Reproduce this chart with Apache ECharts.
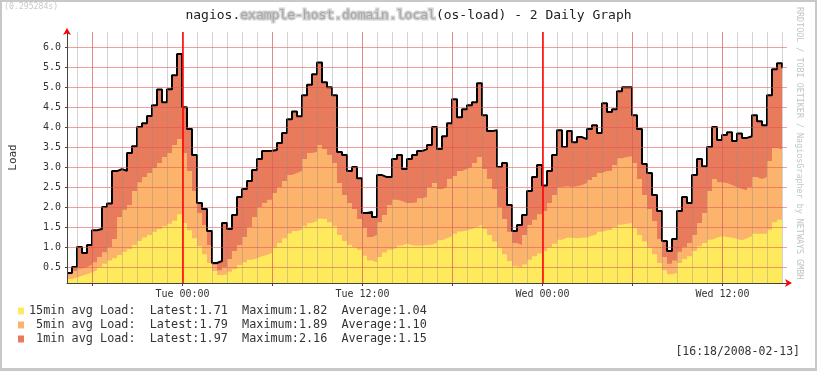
<!DOCTYPE html>
<html><head><meta charset="utf-8">
<script src="https://cdn.jsdelivr.net/npm/echarts@6/dist/echarts.min.js"></script>
<style>
html,body{margin:0;padding:0;background:#fff;}
#wrap{position:relative;width:817px;height:371px;overflow:hidden;}
#chart{width:817px;height:371px;}
#frame{position:absolute;left:0;top:0;width:817px;height:371px;box-sizing:border-box;border:2px solid #c8c8c8;border-bottom-width:3px;pointer-events:none;}
</style></head><body>
<div id="wrap"><div id="chart"></div><div id="frame"></div></div>
<script>
// ---- data ----
const seriesNames = ['15min avg Load:', ' 5min avg Load:', ' 1min avg Load:'];
const seriesColors = ['#FFEA5E', '#FCB46C', '#E87B5B'];
const statLatest = ['1.71', '1.79', '1.97'];
const statMaximum = ['1.82', '1.89', '2.16'];
const statAverage = ['1.04', '1.10', '1.15'];

const load15 = [0.20,0.24,0.28,0.32,0.37,0.42,0.50,0.58,0.66,0.72,0.80,0.88,0.95,1.05,1.15,1.24,1.30,1.38,1.45,1.52,1.58,1.66,1.82,1.60,1.42,1.22,1.02,0.82,0.60,0.40,0.30,0.32,0.38,0.45,0.55,0.62,
0.68,0.72,0.77,0.80,0.85,0.98,1.10,1.22,1.34,1.40,1.43,1.52,1.60,1.65,1.71,1.70,1.62,1.52,1.30,1.15,1.06,1.00,0.93,0.78,0.66,0.62,0.75,0.86,0.93,0.98,1.04,1.08,1.05,1.03,1.04,1.05,
1.06,1.10,1.17,1.22,1.27,1.33,1.39,1.42,1.45,1.50,1.55,1.45,1.30,1.14,0.98,0.82,0.65,0.52,0.48,0.56,0.68,0.77,0.84,0.90,1.00,1.08,1.18,1.23,1.23,1.22,1.23,1.24,1.28,1.32,1.38,1.42,
1.43,1.50,1.56,1.58,1.60,1.48,1.30,1.14,0.98,0.82,0.60,0.42,0.32,0.35,0.60,0.70,0.77,0.90,1.02,1.10,1.18,1.23,1.27,1.25,1.23,1.20,1.17,1.22,1.27,1.33,1.33,1.33,1.43,1.62,1.68,1.71];

const load5 = [0.12,0.16,0.18,0.18,0.18,0.20,0.25,0.29,0.34,0.48,0.95,1.05,1.10,1.35,1.47,1.51,1.55,1.60,1.65,1.73,1.77,1.89,1.88,1.75,1.48,1.18,0.83,0.73,0.45,0.15,0.12,0.18,0.32,0.45,0.50,0.63,
0.82,1.03,1.23,1.30,1.33,1.37,1.40,1.43,1.46,1.45,1.47,1.68,1.75,1.73,1.84,1.75,1.68,1.58,1.30,1.15,1.04,0.95,0.77,0.70,0.59,0.68,0.87,0.94,1.12,1.20,1.11,1.02,1.05,1.09,1.18,1.20,
1.44,1.50,1.28,1.28,1.43,1.45,1.51,1.53,1.55,1.60,1.70,1.50,1.40,1.31,1.02,0.88,0.73,0.58,0.57,0.74,0.87,0.91,0.98,1.00,1.10,1.22,1.32,1.29,1.27,1.30,1.32,1.36,1.40,1.43,1.47,1.48,
1.47,1.55,1.66,1.67,1.67,1.62,1.40,1.16,0.97,0.83,0.60,0.33,0.26,0.31,0.28,0.30,0.33,0.40,0.58,0.75,1.22,1.47,1.35,1.35,1.32,1.30,1.28,1.20,1.23,1.42,1.37,1.42,1.72,1.86,1.77,1.79];

const load1 = [0.03,0.10,0.54,0.35,0.50,0.80,0.70,1.13,1.09,1.70,1.20,0.98,1.30,1.12,1.38,1.35,1.43,1.57,1.84,1.37,1.60,1.75,2.13,1.15,1.05,0.90,0.25,0.40,0.35,0.05,0.23,1.10,0.75,0.90,1.20,1.20,
1.15,1.18,1.20,1.30,1.23,1.08,1.10,1.20,1.40,1.54,1.37,1.60,1.71,1.94,2.07,1.67,1.70,1.70,0.78,1.00,0.80,1.05,1.02,0.37,0.63,0.45,1.18,0.95,0.70,1.02,1.15,0.85,1.10,1.18,1.18,1.20,
1.05,1.40,1.00,1.27,1.40,1.92,1.35,1.50,1.55,1.52,1.85,1.35,1.20,1.47,1.00,1.40,0.67,0.30,0.50,0.50,0.85,1.07,1.23,0.64,0.80,1.00,1.42,0.98,1.40,1.10,1.20,1.10,1.27,1.30,1.00,1.70,
1.48,1.40,1.68,1.75,1.73,1.20,1.25,0.78,0.90,0.65,0.70,0.40,0.32,0.54,1.02,1.25,1.00,1.50,1.60,1.17,1.10,1.30,1.06,1.20,1.32,1.15,1.39,1.31,1.27,1.55,1.45,1.30,1.65,1.97,2.15,1.97];

const sampleStart = '2008-02-11 16:18';
const sampleStepMinutes = 20;
const axisStart = '2008-02-11 16:18';
const axisEnd = '2008-02-13 16:18';
const xLabelTimes = ['2008-02-12 00:00', '2008-02-12 12:00', '2008-02-13 00:00', '2008-02-13 12:00'];
const dayRules = ['2008-02-12 00:00', '2008-02-13 00:00'];
const yTickValues = [0.5, 1.0, 1.5, 2.0, 2.5, 3.0, 3.5, 4.0, 4.5, 5.0, 5.5, 6.0];
const yMin = 0.1, yMax = 6.38;

const titleHost = 'example-host.domain.local';
const titleText = ['nagios.', '(os-load) - 2 Daily Graph'];
const timingText = '(0.295284s)';
const creditText = 'RRDTOOL / TOBI OETIKER / NagiosGrapher by NETWAYS GMBH';
const stampText = '[16:18/2008-02-13]';

// ---- helpers ----
function ts(s) {
  const [d, h] = s.split(' ');
  const [Y, M, D] = d.split('-').map(Number);
  const [hh, mm] = h.split(':').map(Number);
  return Date.UTC(Y, M - 1, D, hh, mm);
}
const HOUR = 3600000;
const DAYS = ['Sun', 'Mon', 'Tue', 'Wed', 'Thu', 'Fri', 'Sat'];
function fmtTime(v) {
  const d = new Date(v);
  const p = n => String(n).padStart(2, '0');
  return DAYS[d.getUTCDay()] + ' ' + p(d.getUTCHours()) + ':' + p(d.getUTCMinutes());
}
const xMin = ts(axisStart), xMax = ts(axisEnd);
const t0 = ts(sampleStart);
const times = load15.map((_, i) => t0 + i * sampleStepMinutes * 60000);
const hourTicks = [], majorTicks = [];
for (let h = Math.ceil(xMin / HOUR) * HOUR; h <= xMax; h += HOUR) {
  hourTicks.push(h);
  if (new Date(h).getUTCHours() % 6 === 0) majorTicks.push(h);
}
// stacked totals (RRDtool STACK): 15min, 15+5, 15+5+1
const loads = [load15, load5, load1];
const stackedTotals = loads.map((_, s) => load15.map((__, i) => {
  let sum = 0; for (let j = 0; j <= s; j++) sum += loads[j][i]; return +sum.toFixed(3);
}));
const pair = arr => arr.map((v, i) => [times[i], v]);
const FONT = 'DejaVu Sans Mono';
const GRID_MINOR = 'rgba(140,140,140,0.38)';
const GRID_MAJOR = 'rgba(232,80,80,0.55)';
const AXIS = '#444';

const chart = echarts.init(document.getElementById('chart'), null, {renderer: 'canvas'});

// draw topmost total first so lower layers paint over it
const order = [2, 1, 0];
chart.setOption({
  animation: false,
  backgroundColor: '#fff',
  title: {
    left: 'center', top: 9, padding: 0,
    text: titleText[0] + '{h|' + titleHost + '}' + titleText[1],
    textStyle: {
      fontFamily: FONT, fontSize: 13, fontWeight: 'normal', color: '#222',
      rich: { h: { fontFamily: FONT, fontSize: 13, color: '#a8a8a8', textBorderColor: 'rgba(190,190,190,0.7)', textBorderWidth: 3 } }
    }
  },
  grid: { left: 67, right: 30, top: 32, bottom: 88, containLabel: false },
  legend: {
    orient: 'vertical', left: 18, top: 304, padding: 0, itemWidth: 6, itemHeight: 7, itemGap: 0,
    icon: 'rect', selectedMode: false, data: seriesNames,
    itemStyle: { borderWidth: 0 },
    textStyle: { fontFamily: FONT, fontSize: 11.8, color: '#333', lineHeight: 14 },
    formatter: name => {
      const i = seriesNames.indexOf(name);
      return name + '  Latest:' + statLatest[i] + '  Maximum:' + statMaximum[i] + '  Average:' + statAverage[i];
    }
  },
  xAxis: [
    {
      type: 'value', min: xMin, max: xMax, z: 3,
      axisLine: { show: true, onZero: false, lineStyle: { color: AXIS, width: 1 } },
      axisTick: { show: false, customValues: hourTicks },
      axisLabel: { customValues: xLabelTimes.map(ts), formatter: fmtTime, fontFamily: FONT, fontSize: 10, color: '#333', margin: 6 },
      splitLine: { show: true, lineStyle: { color: GRID_MINOR, width: 1 } }
    },
    {
      type: 'value', min: xMin, max: xMax, z: 3, position: 'bottom', offset: 0,
      axisLine: { show: true, onZero: false, symbol: ['none', 'arrow'], symbolSize: [6, 7], symbolOffset: [0, 5], lineStyle: { color: '#ff0000', width: 0 } },
      axisTick: { show: true, length: 3, customValues: majorTicks, lineStyle: { color: AXIS, width: 1 } },
      axisLabel: { show: false },
      splitLine: { show: true, lineStyle: { color: GRID_MAJOR, width: 1 } }
    }
  ],
  yAxis: [
    {
      type: 'value', min: yMin, max: yMax, z: 3,
      name: 'Load', nameLocation: 'middle', nameGap: 48, nameRotate: 90,
      nameTextStyle: { fontFamily: FONT, fontSize: 11, color: '#333' },
      axisLine: { show: true, onZero: false, lineStyle: { color: AXIS, width: 1 } },
      axisTick: { show: true, length: 2, customValues: yTickValues, lineStyle: { color: AXIS } },
      axisLabel: { customValues: yTickValues, formatter: v => v.toFixed(1), fontFamily: FONT, fontSize: 10, color: '#333', margin: 6 },
      splitLine: { show: true, lineStyle: { color: GRID_MAJOR, width: 1 } }
    },
    {
      type: 'value', min: yMin, max: yMax, z: 3, position: 'left', offset: 0,
      axisLine: { show: true, onZero: false, symbol: ['none', 'arrow'], symbolSize: [6, 7], symbolOffset: [0, 4], lineStyle: { color: '#ff0000', width: 0 } },
      axisTick: { show: false }, axisLabel: { show: false }, splitLine: { show: false }
    }
  ],
  graphic: [
    { type: 'text', left: 4, top: 3, style: { text: timingText, fontFamily: FONT, fontSize: 8.2, fill: '#c8c8c8' } },
    { type: 'text', x: 803, y: 7, rotation: -Math.PI / 2, style: { text: creditText, fontFamily: FONT, fontSize: 8.4, fill: '#c4c4c4', textAlign: 'left', textVerticalAlign: 'top' } },
    { type: 'text', right: 17, top: 346, style: { text: stampText, fontFamily: FONT, fontSize: 11.5, fill: '#333' } }
  ],
  series: order.map(i => ({
    name: seriesNames[i],
    type: 'line', step: 'end', symbol: 'none',
    xAxisIndex: 0, yAxisIndex: 0, z: 2,
    data: pair(stackedTotals[i]),
    itemStyle: { color: seriesColors[i], borderWidth: 0 },
    areaStyle: { color: seriesColors[i], opacity: 1, origin: 'start' },
    lineStyle: i === 2 ? { color: '#000', width: 2 } : { width: 0, color: seriesColors[i] },
    markLine: i === 2 ? {
      silent: true, symbol: ['none', 'none'], label: { show: false }, z: 6,
      lineStyle: { color: '#ff0000', width: 1.5, type: 'solid' },
      data: dayRules.map(s => ({ xAxis: ts(s) }))
    } : undefined
  }))
});
</script>
</body></html>
